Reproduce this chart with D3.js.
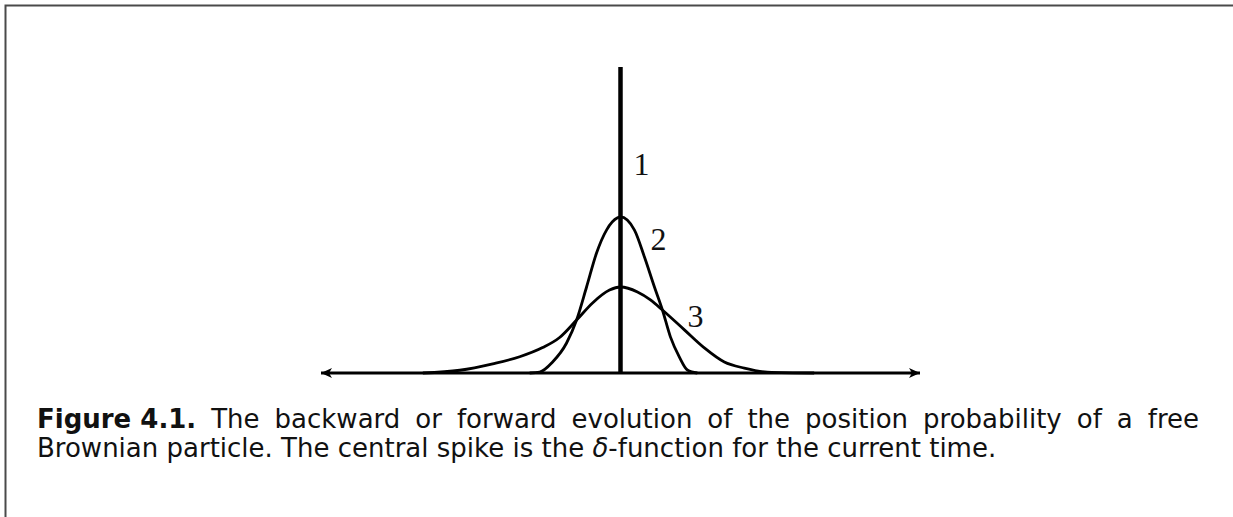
<!DOCTYPE html>
<html>
<head>
<meta charset="utf-8">
<script src="https://cdn.jsdelivr.net/npm/d3@7"></script>
<style>
  html, body { margin: 0; padding: 0; background: #fff; }
  svg { display: block; }
</style>
</head>
<body>
<svg id="fig" width="1233" height="517"></svg>
<script>
// Position axis (x) and probability density (y), arbitrary units.
const xDomain = [-6, 6];
const yDomain = [0, 1];

// Curve 1: the delta spike at the origin.
const spikeX = 0;
const spikeHeight = 1;

// Curve 2: narrow distribution (x, density).
const curve2X = [-1.82, -1.62, -1.36, -1.08, -0.88, -0.68, -0.48, -0.28, -0.06, 0, 0.28, 0.48, 0.68, 0.84, 1.00, 1.18, 1.34, 1.54];
const curve2Y = [0, 0.003, 0.036, 0.098, 0.173, 0.281, 0.392, 0.467, 0.507, 0.510, 0.467, 0.379, 0.281, 0.206, 0.118, 0.052, 0.010, 0];

// Curve 3: wide distribution (x, density).
const curve3X = [-3.96, -3.22, -2.56, -2.02, -1.56, -1.22, -0.88, -0.56, -0.22, 0, 0.34, 0.60, 0.84, 1.28, 1.68, 2.08, 2.48, 2.94, 3.88];
const curve3Y = [0, 0.009, 0.030, 0.053, 0.083, 0.116, 0.173, 0.229, 0.271, 0.281, 0.265, 0.239, 0.206, 0.141, 0.082, 0.036, 0.016, 0.003, 0];

// Curve labels and their anchor points.
const labelText = ["1", "2", "3"];
const labelX = [0.42, 0.76, 1.50];
const labelY = [0.647, 0.402, 0.150];

// Caption.
const captionBold = "Figure 4.1.";
const captionLine1 = "The backward or forward evolution of the position probability of a free";
const captionLine2a = "Brownian particle. The central spike is the ";
const captionDelta = "δ";
const captionLine2b = "-function for the current time.";

const svg = d3.select("#fig");

// Frame around the figure (open at the right and bottom).
svg.append("path")
  .attr("d", "M5.5,517 L5.5,5.5 L1233,5.5")
  .attr("fill", "none")
  .attr("stroke", "#4a4a4a")
  .attr("stroke-width", 2);

const x = d3.scaleLinear().domain(xDomain).range([321, 920]);
const y = d3.scaleLinear().domain(yDomain).range([373, 67]);

// Arrowhead marker for the position axis.
const defs = svg.append("defs");
defs.append("marker")
  .attr("id", "arrow")
  .attr("viewBox", "-12 -6 13 12")
  .attr("refX", 0).attr("refY", 0)
  .attr("markerWidth", 13).attr("markerHeight", 12)
  .attr("markerUnits", "userSpaceOnUse")
  .attr("orient", "auto-start-reverse")
  .append("path")
  .attr("d", "M0,0 L-11,-5 L-8,0 L-11,5 Z")
  .attr("fill", "#000");

// Horizontal position axis with arrows at both ends.
svg.append("line")
  .attr("x1", x(xDomain[0])).attr("x2", x(xDomain[1]))
  .attr("y1", y(0)).attr("y2", y(0))
  .attr("stroke", "#000")
  .attr("stroke-width", 3)
  .attr("marker-start", "url(#arrow)")
  .attr("marker-end", "url(#arrow)");

const line = d3.line()
  .x(d => x(d[0]))
  .y(d => y(d[1]))
  .curve(d3.curveMonotoneX);

const curves = [
  d3.zip(curve3X, curve3Y),
  d3.zip(curve2X, curve2Y)
];

svg.selectAll("path.density")
  .data(curves)
  .join("path")
  .attr("class", "density")
  .attr("d", line)
  .attr("fill", "none")
  .attr("stroke", "#000")
  .attr("stroke-width", 2.8)
  .attr("stroke-linejoin", "round");

// Delta spike.
svg.append("line")
  .attr("x1", x(spikeX)).attr("x2", x(spikeX))
  .attr("y1", y(0)).attr("y2", y(spikeHeight))
  .attr("stroke", "#000")
  .attr("stroke-width", 4.5);

// Curve labels.
svg.selectAll("text.lbl")
  .data(d3.zip(labelText, labelX, labelY))
  .join("text")
  .attr("class", "lbl")
  .attr("x", d => x(d[1]))
  .attr("y", d => y(d[2]))
  .attr("text-anchor", "middle")
  .attr("font-family", "'Liberation Serif', 'Times New Roman', serif")
  .attr("font-size", 32)
  .attr("fill", "#111")
  .text(d => d[0]);

// Caption, first line justified between the margins.
const capFont = "'DejaVu Sans', sans-serif";
const capSize = 26;
const capLeft = 37, capRight = 1199;
const base1 = 428, base2 = 457;

const cap = svg.append("g")
  .attr("font-family", capFont)
  .attr("font-size", capSize)
  .attr("fill", "#111");

const words1 = [{t: captionBold, bold: true}].concat(
  captionLine1.split(" ").map(t => ({t, bold: false})));

const wordNodes = cap.selectAll("text.w1")
  .data(words1)
  .join("text")
  .attr("class", "w1")
  .attr("y", base1)
  .attr("font-weight", d => d.bold ? "bold" : "normal")
  .text(d => d.t);

const widths = wordNodes.nodes().map(n => n.getComputedTextLength());
const total = d3.sum(widths);
const gap = (capRight - capLeft - total) / (words1.length - 1);
let cx = capLeft;
wordNodes.attr("x", (d, i) => {
  const px = cx;
  cx += widths[i] + gap;
  return px;
});

const t2 = cap.append("text")
  .attr("x", capLeft)
  .attr("y", base2)
  .attr("xml:space", "preserve");
t2.append("tspan").text(captionLine2a);
t2.append("tspan").attr("font-style", "italic").text(captionDelta);
t2.append("tspan").text(captionLine2b);
</script>
</body>
</html>
